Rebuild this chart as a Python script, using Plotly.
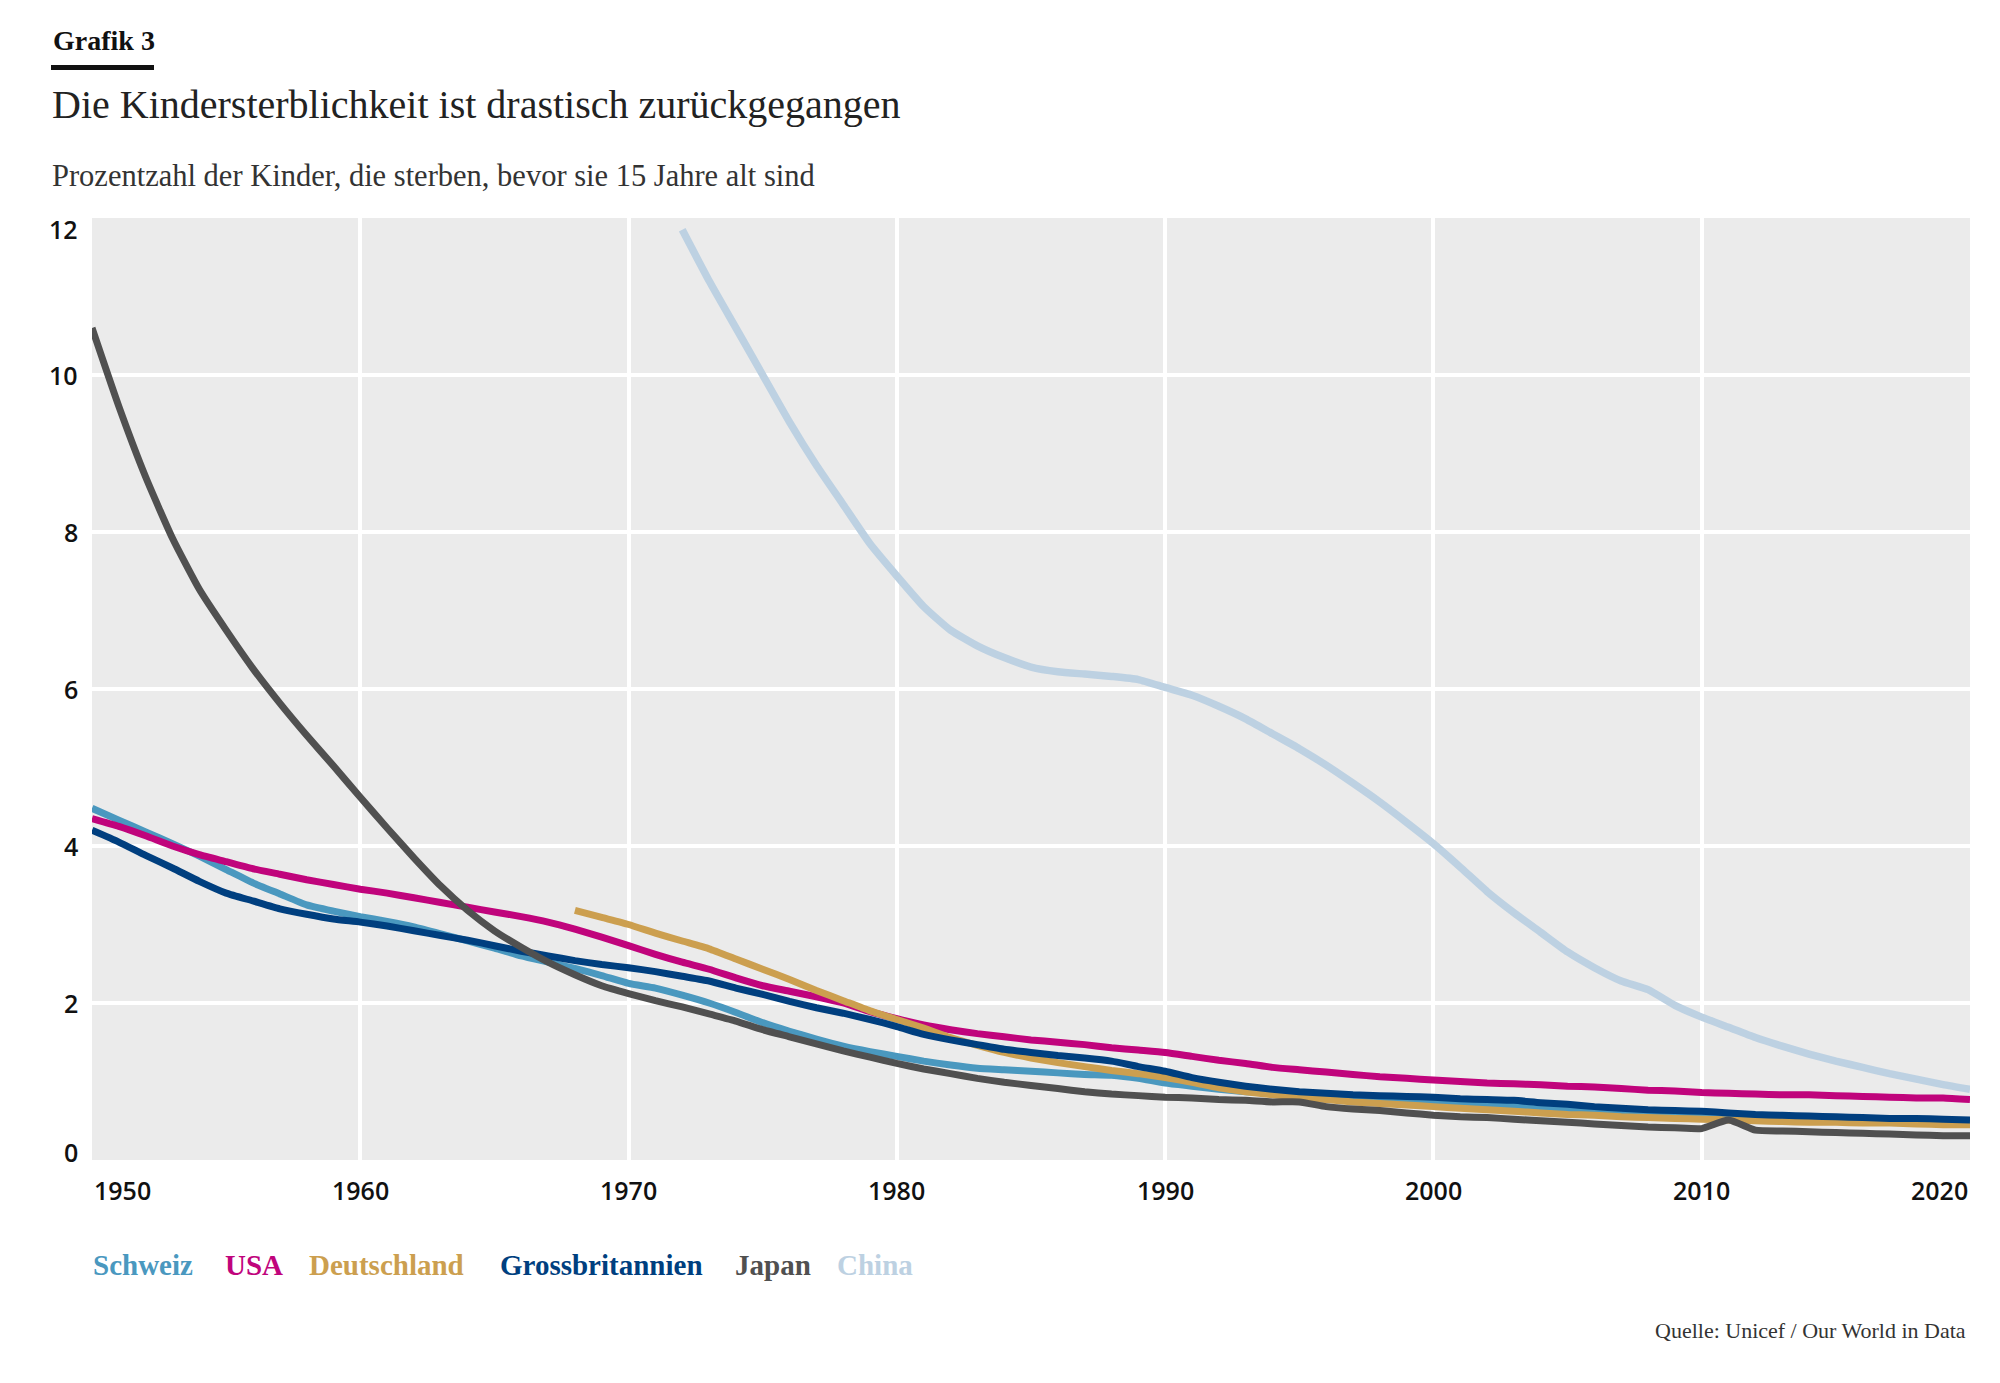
import plotly.graph_objects as go

# ---------------- data ----------------
years_all = list(range(1950, 2021))
years_de = list(range(1968, 2021))
years_cn = list(range(1972, 2021))

schweiz = [4.48, 4.33, 4.18, 4.03, 3.87, 3.70, 3.53, 3.39, 3.25, 3.17,
           3.10, 3.04, 2.97, 2.88, 2.79, 2.70, 2.60, 2.52, 2.44, 2.35,
           2.25, 2.19, 2.10, 2.00, 1.88, 1.75, 1.64, 1.54, 1.45, 1.38,
           1.32, 1.26, 1.21, 1.17, 1.15, 1.13, 1.11, 1.09, 1.08, 1.04,
           0.98, 0.94, 0.90, 0.87, 0.85, 0.83, 0.81, 0.79, 0.77, 0.76,
           0.74, 0.72, 0.71, 0.69, 0.68, 0.66, 0.64, 0.62, 0.61, 0.60,
           0.59, 0.57, 0.56, 0.54, 0.53, 0.52, 0.51, 0.51, 0.50, 0.49,
           0.49]

usa = [4.35, 4.25, 4.13, 4.00, 3.89, 3.80, 3.71, 3.64, 3.57, 3.51,
       3.45, 3.40, 3.34, 3.28, 3.22, 3.16, 3.10, 3.03, 2.94, 2.84,
       2.73, 2.62, 2.52, 2.43, 2.32, 2.22, 2.15, 2.08, 2.00, 1.89,
       1.80, 1.72, 1.66, 1.61, 1.57, 1.53, 1.50, 1.47, 1.43, 1.40,
       1.37, 1.32, 1.27, 1.23, 1.18, 1.15, 1.12, 1.09, 1.06, 1.04,
       1.02, 1.00, 0.98, 0.97, 0.96, 0.94, 0.93, 0.91, 0.89, 0.88,
       0.86, 0.85, 0.84, 0.83, 0.83, 0.82, 0.81, 0.80, 0.79, 0.79,
       0.77]

deutschland = [3.18, 3.09,
               3.00, 2.89, 2.79, 2.69, 2.56, 2.43, 2.30, 2.16, 2.03, 1.90,
               1.79, 1.68, 1.56, 1.46, 1.37, 1.30, 1.24, 1.19, 1.14, 1.10,
               1.05, 0.99, 0.92, 0.87, 0.83, 0.80, 0.77, 0.74, 0.72, 0.70,
               0.68, 0.66, 0.64, 0.62, 0.60, 0.58, 0.57, 0.55, 0.54, 0.53,
               0.52, 0.51, 0.50, 0.49, 0.48, 0.48, 0.47, 0.47, 0.46, 0.45,
               0.45]

grossbritannien = [4.20, 4.05, 3.88, 3.72, 3.55, 3.40, 3.30, 3.20, 3.13, 3.07,
                   3.03, 2.98, 2.92, 2.86, 2.80, 2.73, 2.66, 2.60, 2.54, 2.49,
                   2.45, 2.40, 2.34, 2.28, 2.19, 2.11, 2.02, 1.94, 1.87, 1.79,
                   1.70, 1.60, 1.53, 1.47, 1.41, 1.37, 1.33, 1.30, 1.26, 1.19,
                   1.13, 1.05, 0.99, 0.94, 0.90, 0.87, 0.85, 0.83, 0.82, 0.81,
                   0.80, 0.78, 0.77, 0.76, 0.73, 0.71, 0.68, 0.66, 0.64, 0.63,
                   0.62, 0.60, 0.58, 0.57, 0.56, 0.55, 0.54, 0.53, 0.53, 0.52,
                   0.51]

japan = [10.6, 9.6, 8.7, 7.92, 7.27, 6.75, 6.26, 5.82, 5.41, 5.02,
         4.62, 4.23, 3.85, 3.49, 3.18, 2.92, 2.71, 2.52, 2.36, 2.22,
         2.12, 2.03, 1.95, 1.86, 1.77, 1.66, 1.57, 1.48, 1.39, 1.31,
         1.23, 1.16, 1.10, 1.04, 0.99, 0.95, 0.91, 0.87, 0.84, 0.82,
         0.80, 0.79, 0.77, 0.76, 0.74, 0.74, 0.68, 0.65, 0.63, 0.60,
         0.57, 0.55, 0.54, 0.52, 0.50, 0.48, 0.46, 0.44, 0.42, 0.41,
         0.40, 0.51, 0.38, 0.37, 0.36, 0.35, 0.34, 0.33, 0.32, 0.31,
         0.31]

china = [11.85, 11.2, 10.6, 10.0, 9.4, 8.85, 8.35, 7.85,
         7.44, 7.05, 6.75, 6.55, 6.40, 6.28, 6.22, 6.19, 6.16, 6.12,
         6.02, 5.92, 5.78, 5.62, 5.43, 5.24, 5.03, 4.80, 4.56, 4.30,
         4.03, 3.73, 3.42, 3.15, 2.90, 2.65, 2.45, 2.28, 2.17, 1.97,
         1.82, 1.69, 1.56, 1.45, 1.35, 1.26, 1.18, 1.10, 1.03, 0.96,
         0.90]

series_names = ["Schweiz", "USA", "Deutschland", "Grossbritannien", "Japan", "China"]
series_x = [years_all, years_all, years_de, years_all, years_all, years_cn]
series_y = [schweiz, usa, deutschland, grossbritannien, japan, china]

x_ticks = [1950, 1960, 1970, 1980, 1990, 2000, 2010, 2020]
y_ticks = [0, 2, 4, 6, 8, 10, 12]

# ---------------- styling ----------------
colors = ["#4a98bf", "#c0047c", "#cc9f4f", "#003f7f", "#505050", "#bdd1e2"]
widths = [7, 7, 7, 7, 7, 7.5]
legend_px = [91, 223, 307, 498, 733, 835]

# target page size and the page's default body margin
PAGE_W, PAGE_H, OFF = 2000, 1383, 8
W, H = PAGE_W - 2 * OFF, PAGE_H - 2 * OFF
# plot area in page pixels
L, R, T, B = 92, 1970, 218, 1160


def px(x):
    return (x - L) / (R - L)


def py(y):
    return (B - y) / (B - T)


SERIF = "Liberation Serif, DejaVu Serif, serif"
SANS = "Open Sans, Noto Sans, sans-serif"

fig = go.Figure()
for name, xs, ys, c, w in zip(series_names, series_x, series_y, colors, widths):
    fig.add_trace(go.Scatter(x=xs, y=ys, name=name, mode="lines",
                             line=dict(color=c, width=w, shape="spline", smoothing=0.5),
                             showlegend=False, hoverinfo="x+y+name"))

annotations = []
# x tick labels
for i, t in enumerate(x_ticks):
    anchor = "left" if i == 0 else ("right" if i == len(x_ticks) - 1 else "center")
    annotations.append(dict(x=t, y=py(1190), xref="x", yref="paper", text=str(t),
                            showarrow=False, xanchor=anchor, yanchor="middle",
                            font=dict(family=SANS, size=25, color="#111111", weight=600)))
# y tick labels
for t in y_ticks:
    shift = -11 if t == max(y_ticks) else (8 if t == 0 else 0)
    annotations.append(dict(x=px(80), y=t, xref="paper", yref="y", text=str(t),
                            showarrow=False, xanchor="right", yanchor="middle",
                            yshift=shift,
                            font=dict(family=SANS, size=25, color="#111111", weight=600)))
# legend as colored text
for name, c, lx in zip(series_names, colors, legend_px):
    annotations.append(dict(x=px(lx), y=py(1265), xref="paper", yref="paper",
                            text="<b>" + name + "</b>", showarrow=False,
                            xanchor="left", yanchor="middle",
                            font=dict(family=SERIF, size=29, color=c)))
# header texts
annotations.append(dict(x=px(51), y=py(41), xref="paper", yref="paper",
                        text="<b>Grafik 3</b>", showarrow=False, xanchor="left",
                        yanchor="middle", font=dict(family=SERIF, size=28, color="#111111")))
annotations.append(dict(x=px(50), y=py(105), xref="paper", yref="paper",
                        text="Die Kindersterblichkeit ist drastisch zurückgegangen",
                        showarrow=False, xanchor="left", yanchor="middle",
                        font=dict(family=SERIF, size=40, color="#222222")))
annotations.append(dict(x=px(50), y=py(176), xref="paper", yref="paper",
                        text="Prozentzahl der Kinder, die sterben, bevor sie 15 Jahre alt sind",
                        showarrow=False, xanchor="left", yanchor="middle",
                        font=dict(family=SERIF, size=30.5, color="#333333")))
annotations.append(dict(x=px(1968), y=py(1330), xref="paper", yref="paper",
                        text="Quelle: Unicef / Our World in Data",
                        showarrow=False, xanchor="right", yanchor="middle",
                        font=dict(family=SERIF, size=22, color="#333333")))

shapes = [dict(type="rect", xref="paper", yref="paper",
               x0=px(51), x1=px(154), y0=py(65), y1=py(70),
               fillcolor="#111111", line=dict(width=0))]

fig.update_layout(
    width=W, height=H,
    margin=dict(l=L - OFF, r=(PAGE_W - OFF) - R, t=T - OFF, b=(PAGE_H - OFF) - B, pad=0),
    paper_bgcolor="white", plot_bgcolor="#ebebeb",
    xaxis=dict(range=[1950, 2020], tickvals=x_ticks[1:-1], showticklabels=False,
               showgrid=True, gridcolor="white", gridwidth=3.5, zeroline=False,
               showline=False, ticks=""),
    yaxis=dict(range=[0, 12], tickvals=y_ticks[1:-1], showticklabels=False,
               showgrid=True, gridcolor="white", gridwidth=3.5, zeroline=False,
               showline=False, ticks=""),
    annotations=annotations, shapes=shapes,
    showlegend=False,
)

fig.write_html("out.html")
